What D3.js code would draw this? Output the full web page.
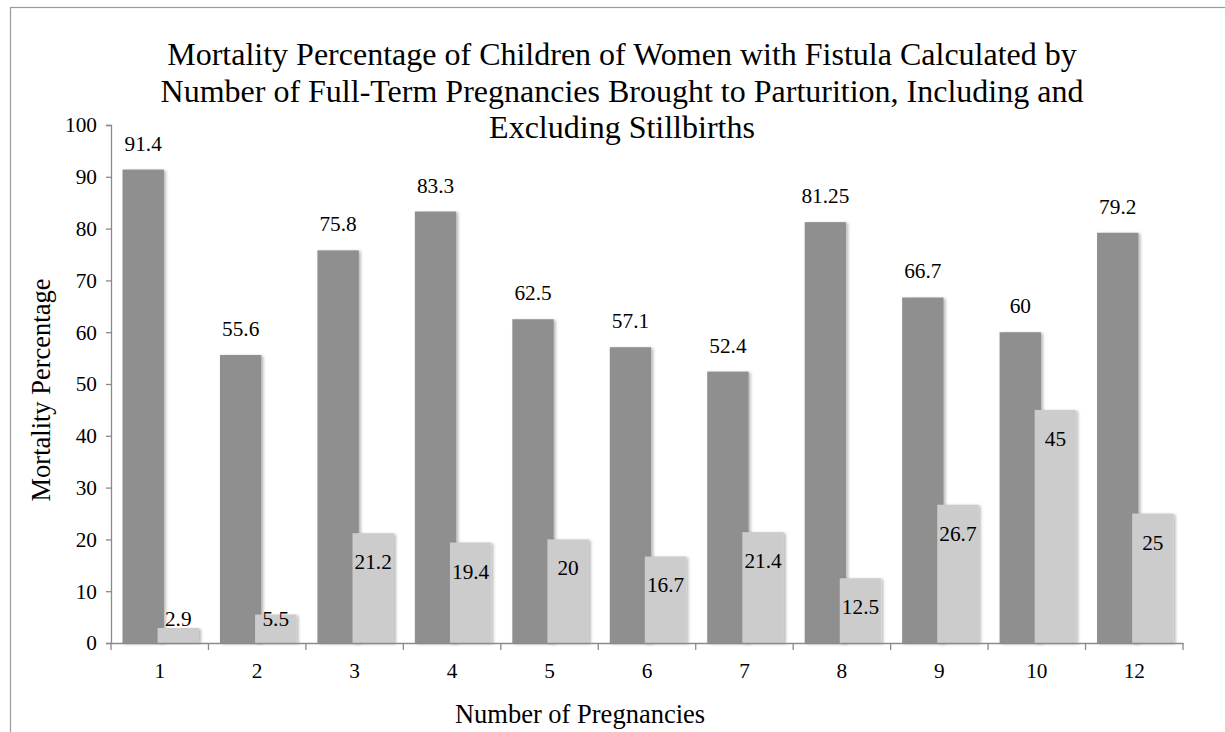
<!DOCTYPE html>
<html>
<head>
<meta charset="utf-8">
<script src="https://cdn.jsdelivr.net/npm/d3@7/dist/d3.min.js"></script>
<style>
  html, body { margin: 0; padding: 0; background: #fff; }
  svg { display: block; }
  text { font-family: "Liberation Serif", "Times New Roman", serif; fill: #000; }
</style>
</head>
<body>
<svg id="chart" width="1225" height="732"></svg>
<script>
// Number of full-term pregnancies brought to parturition
const categories = ["1", "2", "3", "4", "5", "6", "7", "8", "9", "10", "12"];
// Mortality including stillbirths
const includingStillbirths = [91.4, 55.6, 75.8, 83.3, 62.5, 57.1, 52.4, 81.25, 66.7, 60, 79.2];
// Mortality excluding stillbirths
const excludingStillbirths = [2.9, 5.5, 21.2, 19.4, 20, 16.7, 21.4, 12.5, 26.7, 45, 25];
const yTicks = [0, 10, 20, 30, 40, 50, 60, 70, 80, 90, 100];
const labelText = ["91.4", "55.6", "75.8", "83.3", "62.5", "57.1", "52.4", "81.25", "66.7", "60", "79.2"];
const labelTextEx = ["2.9", "5.5", "21.2", "19.4", "20", "16.7", "21.4", "12.5", "26.7", "45", "25"];

const titleLines = [
  "Mortality Percentage of Children of Women with Fistula Calculated by",
  "Number of Full-Term Pregnancies Brought to Parturition, Including and",
  "Excluding Stillbirths"
];

const FONT = '"Liberation Serif", "Times New Roman", serif';
const svg = d3.select("#chart");
const plot = { left: 111, right: 1183, top: 125, bottom: 643 };

const defs = svg.append("defs");
const shadow = defs.append("filter").attr("id", "barShadow")
  .attr("x", "-20%").attr("y", "-5%").attr("width", "150%").attr("height", "115%");
shadow.append("feDropShadow")
  .attr("dx", 2).attr("dy", 1).attr("stdDeviation", 1.4)
  .attr("flood-color", "#000").attr("flood-opacity", 0.28);

// outer frame
svg.append("rect")
  .attr("x", 10.5).attr("y", 7.5).attr("width", 1300).attr("height", 800)
  .attr("fill", "none").attr("stroke", "#9a9a9a").attr("stroke-width", 1.2);

const x = d3.scaleBand().domain(categories).range([plot.left, plot.right]).padding(0);
const y = d3.scaleLinear().domain([0, 100]).range([plot.bottom, plot.top]);
const step = x.step();
const barW = step * 0.425;
const darkOff = step * 0.118;
const lightOff = step * 0.478;

// bars
const bars = svg.append("g");
bars.selectAll("rect.inc").data(categories).join("rect")
  .attr("class", "inc")
  .attr("x", (c) => x(c) + darkOff)
  .attr("width", barW)
  .attr("y", (c, i) => y(includingStillbirths[i]))
  .attr("height", (c, i) => y(0) - y(includingStillbirths[i]))
  .attr("fill", "#8f8f8f")
  .attr("filter", "url(#barShadow)");
bars.selectAll("rect.exc").data(categories).join("rect")
  .attr("class", "exc")
  .attr("x", (c) => x(c) + lightOff)
  .attr("width", barW)
  .attr("y", (c, i) => y(excludingStillbirths[i]))
  .attr("height", (c, i) => y(0) - y(excludingStillbirths[i]))
  .attr("fill", "#cccccc")
  .attr("filter", "url(#barShadow)");

// y axis
const yAxis = svg.append("g")
  .attr("transform", `translate(${plot.left},0)`)
  .call(d3.axisLeft(y).tickValues(yTicks).tickSize(5).tickPadding(9).tickFormat(d3.format("d")));
yAxis.attr("font-family", null);
yAxis.select(".domain").attr("stroke", "#8a8a8a").attr("stroke-width", 1.3);
yAxis.selectAll(".tick line").attr("stroke", "#8a8a8a").attr("stroke-width", 1.3);
yAxis.selectAll(".tick text").style("font-family", FONT).style("font-size", "21.3px").attr("fill", "#000");

// x axis
const xAxis = svg.append("g")
  .attr("transform", `translate(0,${plot.bottom})`)
  .call(d3.axisBottom(x).tickSize(0).tickPadding(20));
xAxis.attr("font-family", null);
xAxis.select(".domain").attr("stroke", "#8a8a8a").attr("stroke-width", 1.3);
xAxis.selectAll(".tick text").style("font-family", FONT).style("font-size", "21.3px").attr("fill", "#000");
const bounds = categories.map((c) => x(c)).concat([x.range()[1]]);
xAxis.selectAll("line.bound").data(bounds).join("line")
  .attr("class", "bound")
  .attr("x1", (d) => d).attr("x2", (d) => d)
  .attr("y1", 0).attr("y2", 7)
  .attr("stroke", "#8a8a8a").attr("stroke-width", 1.3);

// value labels
svg.append("g").selectAll("text").data(categories).join("text")
  .attr("x", (c) => x(c) + darkOff + barW / 2)
  .attr("y", (c, i) => y(includingStillbirths[i]) - 19)
  .attr("text-anchor", "middle")
  .style("font-family", FONT)
  .style("font-size", "21.3px")
  .text((c, i) => labelText[i]);
svg.append("g").selectAll("text").data(categories).join("text")
  .attr("x", (c) => x(c) + lightOff + barW / 2)
  .attr("y", (c, i) => Math.min(y(excludingStillbirths[i]) + 36, plot.bottom - 17))
  .attr("text-anchor", "middle")
  .style("font-family", FONT)
  .style("font-size", "21.3px")
  .text((c, i) => labelTextEx[i]);

// title
svg.append("g").selectAll("text").data(titleLines).join("text")
  .attr("x", 622)
  .attr("y", (d, i) => 65 + i * 36.5)
  .attr("text-anchor", "middle")
  .style("font-family", FONT)
  .style("font-size", "32px")
  .text((d) => d);

// axis titles
svg.append("text")
  .attr("transform", `translate(50,390) rotate(-90)`)
  .attr("text-anchor", "middle")
  .style("font-family", FONT)
  .style("font-size", "26.5px")
  .text("Mortality Percentage");
svg.append("text")
  .attr("x", 580).attr("y", 723)
  .attr("text-anchor", "middle")
  .style("font-family", FONT)
  .style("font-size", "26.5px")
  .text("Number of Pregnancies");
</script>
</body>
</html>
